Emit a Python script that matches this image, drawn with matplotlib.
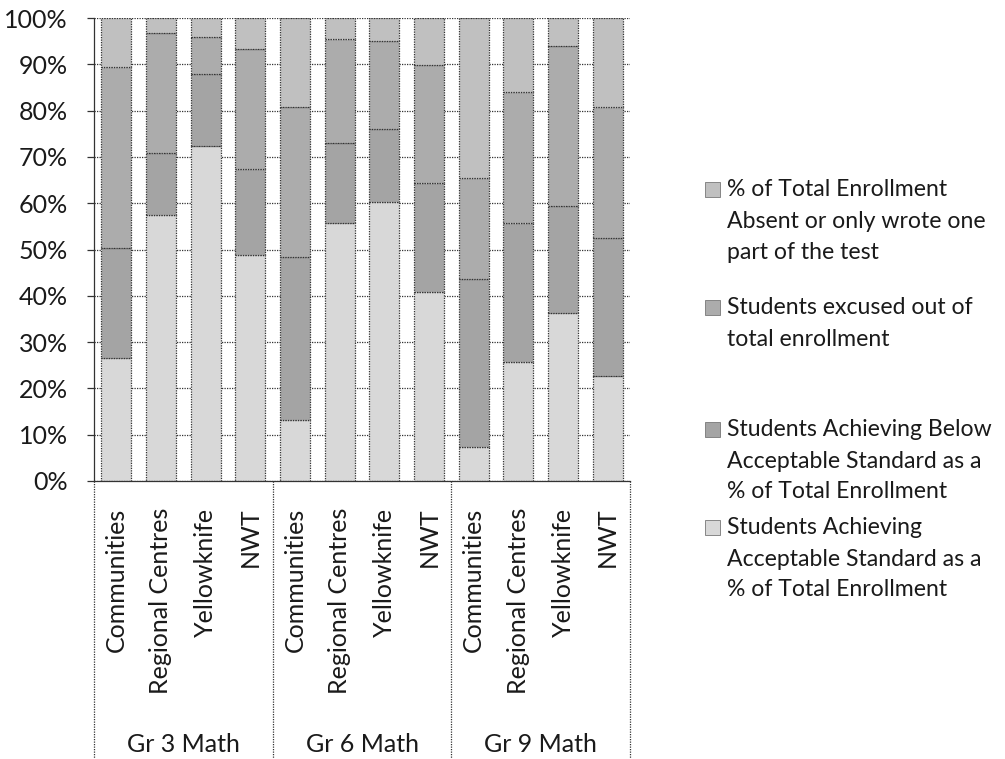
import matplotlib
matplotlib.use("Agg")
import matplotlib.pyplot as plt
import numpy as np
from matplotlib.patches import Rectangle
from matplotlib.ticker import PercentFormatter
from matplotlib.transforms import blended_transform_factory

plt.rcParams["font.family"] = ["Lato", "DejaVu Sans"]

REGIONS = ["Communities", "Regional Centres", "Yellowknife", "NWT"] * 3
GROUPS = ["Gr 3 Math", "Gr 6 Math", "Gr 9 Math"]

# segment heights, % of total enrollment (bottom to top)
acceptable = [26.5, 57.5, 72.4, 48.8, 13.2, 55.8, 60.3, 40.9, 7.3, 25.8, 36.2, 22.7]
below = [23.9, 13.3, 15.5, 18.5, 35.1, 17.1, 15.7, 23.5, 36.3, 29.9, 23.3, 29.7]
excused = [39.1, 25.9, 8.1, 25.9, 32.4, 22.5, 19.1, 25.4, 21.8, 28.3, 34.5, 28.4]
absent = [10.5, 3.3, 4.0, 6.8, 19.3, 4.6, 4.9, 10.2, 34.6, 16.0, 6.0, 19.2]

SERIES_NAMES = [
    "Students Achieving\nAcceptable Standard as a\n% of Total Enrollment",
    "Students Achieving Below\nAcceptable Standard as a\n% of Total Enrollment",
    "Students excused out of\ntotal enrollment",
    "% of Total Enrollment\nAbsent or only wrote one\npart of the test",
]
COLORS = ["#d8d8d8", "#a4a4a4", "#acacac", "#c0c0c0"]
DOTS = (0, (1, 1))
FS = 18
LEG_FS = 16.6

W, H = 1005, 759
fig = plt.figure(figsize=(W / 100, H / 100), dpi=100)
ax = fig.add_axes([94 / W, 1 - 481 / H, (630 - 94) / W, (481 - 18) / H])

x = np.arange(len(REGIONS))
bottom = np.zeros(len(REGIONS))
for vals, color in zip([acceptable, below, excused, absent], COLORS):
    ax.bar(x, vals, width=0.67, bottom=bottom, color=color,
           edgecolor="#333333", linewidth=0.9, linestyle=DOTS, zorder=2)
    bottom += np.array(vals)

ax.set_xlim(-0.5, len(REGIONS) - 0.5)
ax.set_ylim(0, 100)
ax.set_yticks(np.arange(0, 101, 10))
ax.yaxis.set_major_formatter(PercentFormatter(xmax=100, decimals=0))
ax.grid(axis="y", color="#333333", linewidth=0.9, linestyle=DOTS, zorder=0)
ax.set_axisbelow(True)

for side in ["top", "right"]:
    ax.spines[side].set_visible(False)
for side in ["left", "bottom"]:
    ax.spines[side].set_color("#333333")
    ax.spines[side].set_linestyle(DOTS)
    ax.spines[side].set_linewidth(0.9)

ax.tick_params(axis="y", length=5, width=0.9, color="#333333", pad=14,
               labelsize=FS, labelcolor="#1a1a1a")
ax.set_xticks(x)
ax.set_xticklabels(REGIONS, rotation=90, fontsize=FS, color="#1a1a1a")
ax.tick_params(axis="x", length=0, pad=19)

# multi-level category axis: group dividers and group names
trans = blended_transform_factory(ax.transData, ax.transAxes)
for xd in np.arange(-0.5, len(REGIONS), 4):
    ax.plot([xd, xd], [0, -0.6], transform=trans, clip_on=False,
            color="#333333", linewidth=0.9, linestyle=DOTS)
for i, name in enumerate(GROUPS):
    ax.text(4 * i + 1.5, -0.57, name, transform=trans, ha="center", va="center",
            fontsize=FS, color="#1a1a1a")

# legend, top entry first
legend_top = [190, 308, 430, 528]
for name, color, y0 in zip(SERIES_NAMES[::-1], COLORS[::-1], legend_top):
    fig.patches.append(Rectangle((705 / W, 1 - (y0 + 7) / H), 15 / W, 15 / H,
                                 transform=fig.transFigure, facecolor=color,
                                 edgecolor="#777777", linewidth=0.6))
    for k, line in enumerate(name.split("\n")):
        fig.text(727 / W, 1 - (y0 + 31 * k) / H, line, ha="left", va="center",
                 fontsize=LEG_FS, color="#1a1a1a")

fig.savefig("out.png", dpi=100)
